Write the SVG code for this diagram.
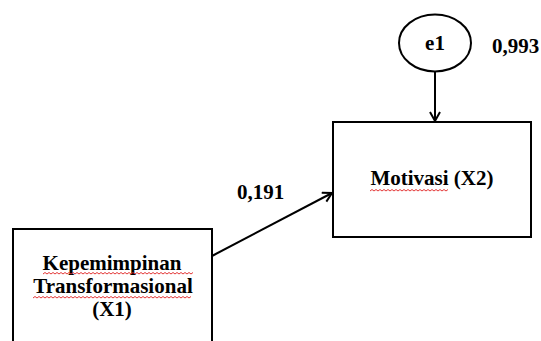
<svg xmlns="http://www.w3.org/2000/svg" width="541" height="341" viewBox="0 0 541 341">
<style>
.box{fill:#fff;stroke:#000;stroke-width:2}
text{font-family:'Liberation Serif','Times New Roman',Times,serif;font-weight:700;font-size:21px;fill:#000}
.c{text-anchor:middle}
.line{stroke:#000;stroke-width:2;fill:none}
.sq{stroke:#e02020;stroke-width:0.9;fill:none}
</style>
<defs>
<marker id="arr" markerWidth="14" markerHeight="14" refX="10" refY="6" orient="auto" markerUnits="userSpaceOnUse">
<path d="M1,1 L10,6 L1,11" fill="none" stroke="#000" stroke-width="2"/>
</marker>
</defs>
<rect width="541" height="341" fill="#fff"/>
<g id="connectors">
<line class="line" x1="435" y1="72" x2="435" y2="121" marker-end="url(#arr)"/>
<line class="line" x1="212" y1="256" x2="332" y2="193" marker-end="url(#arr)"/>
</g>
<g id="e1">
<ellipse cx="435" cy="43" rx="36" ry="28.5" fill="#fff" stroke="#000" stroke-width="2"/>
<text class="c" x="435" y="50">e1</text>
</g>
<g id="x2">
<rect class="box" x="333" y="122" width="198" height="115"/>
<text class="c" x="432" y="185">Motivasi (X2)</text>
<path class="sq" d="M370,191 l2,-1.5 l2,1.5 l2,-1.5 l2,1.5 l2,-1.5 l2,1.5 l2,-1.5 l2,1.5 l2,-1.5 l2,1.5 l2,-1.5 l2,1.5 l2,-1.5 l2,1.5 l2,-1.5 l2,1.5 l2,-1.5 l2,1.5 l2,-1.5 l2,1.5 l2,-1.5 l2,1.5 l2,-1.5 l2,1.5 l2,-1.5 l2,1.5 l2,-1.5 l2,1.5 l2,-1.5 l2,1.5 l2,-1.5 l2,1.5 l2,-1.5 l2,1.5 l2,-1.5 l2,1.5 l2,-1.5 l2,1.5 l2,-1.5"/>
</g>
<g id="x1">
<rect class="box" x="13" y="229" width="199" height="130"/>
<text class="c" x="112" y="270">Kepemimpinan</text>
<text class="c" x="113" y="293">Transformasional</text>
<text class="c" x="112" y="316">(X1)</text>
<path class="sq" d="M43,274 l2,-1.5 l2,1.5 l2,-1.5 l2,1.5 l2,-1.5 l2,1.5 l2,-1.5 l2,1.5 l2,-1.5 l2,1.5 l2,-1.5 l2,1.5 l2,-1.5 l2,1.5 l2,-1.5 l2,1.5 l2,-1.5 l2,1.5 l2,-1.5 l2,1.5 l2,-1.5 l2,1.5 l2,-1.5 l2,1.5 l2,-1.5 l2,1.5 l2,-1.5 l2,1.5 l2,-1.5 l2,1.5 l2,-1.5 l2,1.5 l2,-1.5 l2,1.5 l2,-1.5 l2,1.5 l2,-1.5 l2,1.5 l2,-1.5 l2,1.5 l2,-1.5 l2,1.5 l2,-1.5 l2,1.5 l2,-1.5 l2,1.5 l2,-1.5 l2,1.5 l2,-1.5 l2,1.5 l2,-1.5 l2,1.5 l2,-1.5 l2,1.5 l2,-1.5 l2,1.5 l2,-1.5 l2,1.5 l2,-1.5 l2,1.5 l2,-1.5 l2,1.5 l2,-1.5 l2,1.5 l2,-1.5 l2,1.5 l2,-1.5 l2,1.5 l2,-1.5 l2,1.5 l2,-1.5 l2,1.5 l2,-1.5 l2,1.5 l2,-1.5"/>
<path class="sq" d="M33,298 l2,-1.5 l2,1.5 l2,-1.5 l2,1.5 l2,-1.5 l2,1.5 l2,-1.5 l2,1.5 l2,-1.5 l2,1.5 l2,-1.5 l2,1.5 l2,-1.5 l2,1.5 l2,-1.5 l2,1.5 l2,-1.5 l2,1.5 l2,-1.5 l2,1.5 l2,-1.5 l2,1.5 l2,-1.5 l2,1.5 l2,-1.5 l2,1.5 l2,-1.5 l2,1.5 l2,-1.5 l2,1.5 l2,-1.5 l2,1.5 l2,-1.5 l2,1.5 l2,-1.5 l2,1.5 l2,-1.5 l2,1.5 l2,-1.5 l2,1.5 l2,-1.5 l2,1.5 l2,-1.5 l2,1.5 l2,-1.5 l2,1.5 l2,-1.5 l2,1.5 l2,-1.5 l2,1.5 l2,-1.5 l2,1.5 l2,-1.5 l2,1.5 l2,-1.5 l2,1.5 l2,-1.5 l2,1.5 l2,-1.5 l2,1.5 l2,-1.5 l2,1.5 l2,-1.5 l2,1.5 l2,-1.5 l2,1.5 l2,-1.5 l2,1.5 l2,-1.5 l2,1.5 l2,-1.5 l2,1.5 l2,-1.5 l2,1.5 l2,-1.5 l2,1.5 l2,-1.5 l2,1.5 l2,-1.5"/>
</g>
<g id="labels">
<text x="237" y="199">0,191</text>
<text x="492" y="53">0,993</text>
</g>
</svg>
